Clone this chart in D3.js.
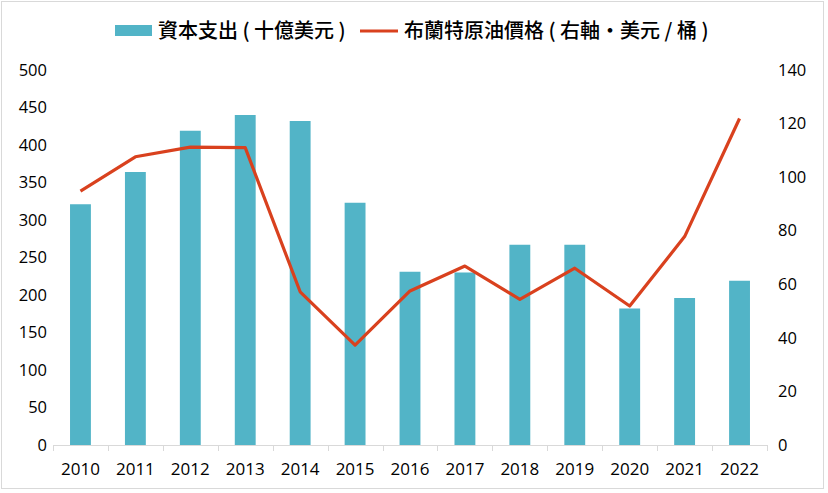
<!DOCTYPE html>
<html><head><meta charset="utf-8">
<script src="https://cdn.jsdelivr.net/npm/d3@7"></script>
<style>body{margin:0;background:#fff}svg{display:block}</style>
</head><body>
<svg id="c" width="828" height="493"></svg>
<script>
const years = ["2010","2011","2012","2013","2014","2015","2016","2017","2018","2019","2020","2021","2022"];
const capex = [321, 364, 419, 440, 432, 323, 231, 230, 267, 267, 182, 196, 219];
const brent = [94.8, 107.6, 111.2, 111.0, 57.2, 37.3, 57.5, 66.8, 54.4, 66.0, 51.9, 77.8, 121.9];
const leftTicks = [0,50,100,150,200,250,300,350,400,450,500];
const rightTicks = [0,20,40,60,80,100,120,140];
const legendLabels = ["資本支出 ( 十億美元 )", "布蘭特原油價格 ( 右軸·美元 / 桶 )"];

const svg = d3.select("#c");
const font = "'Open Sans', 'Noto Sans', sans-serif";
const cjk = "'Noto Sans CJK TC', 'Noto Sans CJK SC', sans-serif";
const barColor = "#52b4c7", lineColor = "#d9411e";

svg.append("rect").attr("x",1.5).attr("y",1.5).attr("width",822).attr("height",487)
  .attr("fill","none").attr("stroke","#d9d9d9");

const x = d3.scaleBand().domain(years).range([53,767]).paddingInner(0.62).paddingOuter(0.31);
const yL = d3.scaleLinear().domain([0,500]).range([445,70]);
const yR = d3.scaleLinear().domain([0,140]).range([445,70]);

// bars
svg.append("g").selectAll("rect").data(years).join("rect")
  .attr("x", d=>x(d)).attr("width", x.bandwidth())
  .attr("y", (d,i)=>yL(capex[i])).attr("height", (d,i)=>yL(0)-yL(capex[i]))
  .attr("fill", barColor);

// x axis
const step = x.step();
const xAxisG = svg.append("g");
xAxisG.append("line").attr("x1",53).attr("x2",767).attr("y1",445.5).attr("y2",445.5).attr("stroke","#d9d9d9");
const bounds = d3.range(years.length+1).map(i=>53 + i*step);
xAxisG.selectAll("line.t").data(bounds).join("line").attr("class","t")
  .attr("x1",d=>Math.round(d)+0.5).attr("x2",d=>Math.round(d)+0.5).attr("y1",445).attr("y2",451).attr("stroke","#d9d9d9");
xAxisG.selectAll("text").data(years).join("text")
  .attr("x", d=>x(d)+x.bandwidth()/2).attr("y", 475)
  .attr("text-anchor","middle").attr("font-family",font).attr("font-size",17).attr("fill","#000")
  .text(d=>d);

// left axis
const la = d3.axisLeft(yL).tickValues(leftTicks).tickSize(0).tickPadding(0);
const lg = svg.append("g").attr("transform","translate(47,0)").call(la);
lg.select(".domain").remove();
lg.selectAll("text").attr("font-family",font).attr("font-size",16.5).attr("fill","#000");

// right axis
const ra = d3.axisRight(yR).tickValues(rightTicks).tickSize(0).tickPadding(0);
const rg = svg.append("g").attr("transform","translate(778,0)").call(ra);
rg.select(".domain").remove();
rg.selectAll("text").attr("font-family",font).attr("font-size",16.5).attr("fill","#000");

// line
const line = d3.line().x((d,i)=>x(years[i])+x.bandwidth()/2).y(d=>yR(d));
svg.append("path").datum(brent).attr("d", line).attr("fill","none")
  .attr("stroke", lineColor).attr("stroke-width",3.2).attr("stroke-linejoin","round");

// legend
const lgd = svg.append("g");
lgd.append("rect").attr("x",115).attr("y",25).attr("width",37).attr("height",11).attr("fill",barColor);
lgd.append("text").attr("x",158).attr("y",38).attr("font-family",cjk).attr("font-size",20).attr("font-weight",500).attr("fill","#000").text(legendLabels[0]);
lgd.append("line").attr("x1",360).attr("x2",398).attr("y1",31).attr("y2",31).attr("stroke",lineColor).attr("stroke-width",3);
lgd.append("text").attr("x",404).attr("y",38).attr("font-family",cjk).attr("font-size",20).attr("font-weight",500).attr("fill","#000").text(legendLabels[1]);
</script>
</body></html>
